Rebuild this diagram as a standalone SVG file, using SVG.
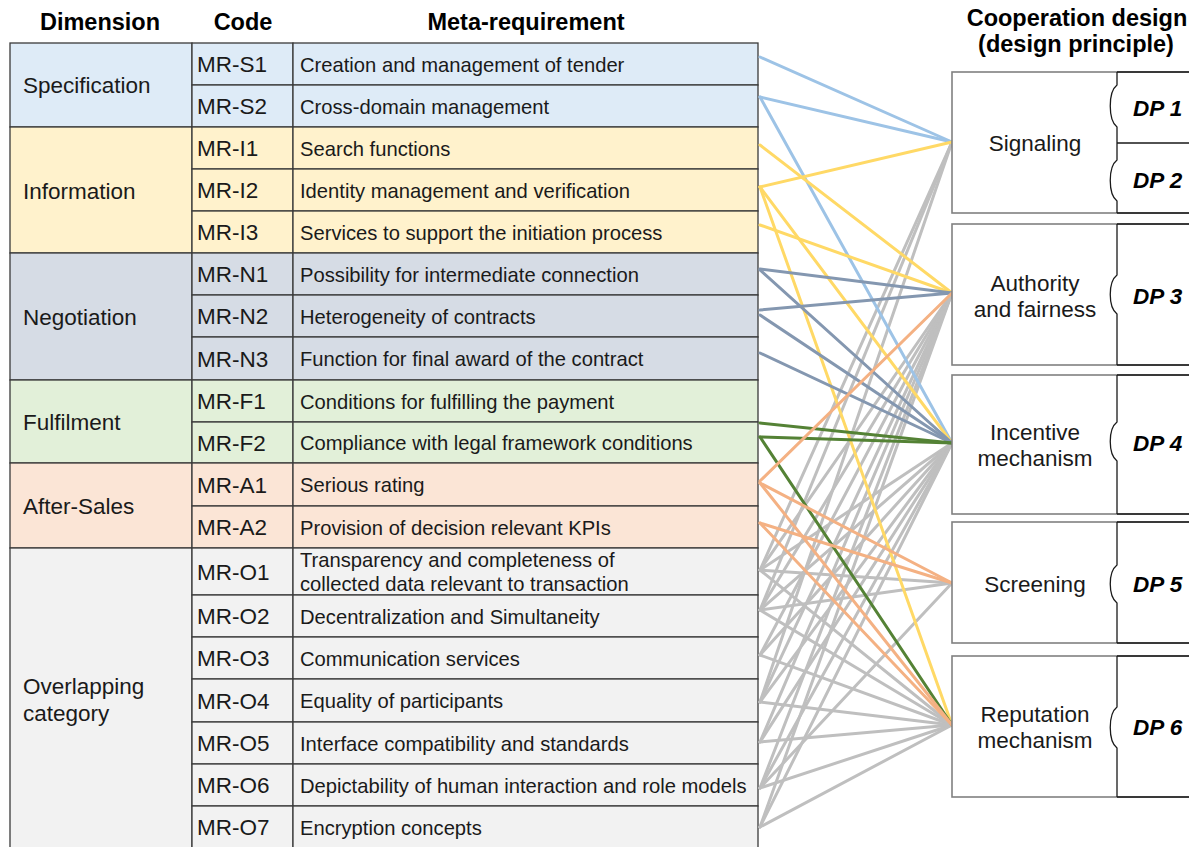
<svg xmlns="http://www.w3.org/2000/svg" width="1189" height="847" viewBox="0 0 1189 847">
<style>
.hd{font-family:"Liberation Sans",Arial,sans-serif;font-weight:bold;font-size:23.5px;fill:#000}
.dim{font-family:"Liberation Sans",Arial,sans-serif;font-size:22.5px;fill:#1a1a1a}
.code{font-family:"Liberation Sans",Arial,sans-serif;font-size:22.5px;fill:#1a1a1a}
.meta{font-family:"Liberation Sans",Arial,sans-serif;font-size:20.2px;fill:#1a1a1a}
.nl{font-family:"Liberation Sans",Arial,sans-serif;font-size:22.5px;fill:#1a1a1a;text-anchor:middle}
.dp{font-family:"Liberation Sans",Arial,sans-serif;font-size:22.5px;font-weight:bold;font-style:italic;fill:#000}
.cell{stroke:#3a3a3a;stroke-width:1.3}
.spec{fill:#DEEBF7}.info{fill:#FFF2CC}.neg{fill:#D6DCE5}.ful{fill:#E2F0D9}.aft{fill:#FBE5D6}.ovl{fill:#F2F2F2}
.nbox{fill:#fff;stroke:#808080;stroke-width:1.6}
.dpl{fill:none;stroke:#1a1a1a;stroke-width:1.3}
.c{stroke-width:3;fill:none;stroke-linecap:round}
.gy{stroke:#BFBFBF}.bl{stroke:#9DC3E6}.ye{stroke:#FFD966}.sl{stroke:#8497B0}.gr{stroke:#548235}.or{stroke:#F4B183}
</style>

<g id="headers">
<text class="hd" x="100" y="30" text-anchor="middle">Dimension</text>
<text class="hd" x="243" y="30" text-anchor="middle">Code</text>
<text class="hd" x="526" y="30" text-anchor="middle">Meta-requirement</text>
<text class="hd" x="1077" y="26" text-anchor="middle">Cooperation design</text>
<text class="hd" x="1076" y="52" text-anchor="middle">(design principle)</text>
</g>

<g id="dimensions">
<g id="dim-specification"><rect class="cell spec" x="10" y="43" width="182" height="84"/><text class="dim" x="23" y="93">Specification</text></g>
<g id="dim-information"><rect class="cell info" x="10" y="127" width="182" height="126"/><text class="dim" x="23" y="199">Information</text></g>
<g id="dim-negotiation"><rect class="cell neg" x="10" y="253" width="182" height="127"/><text class="dim" x="23" y="325">Negotiation</text></g>
<g id="dim-fulfilment"><rect class="cell ful" x="10" y="380" width="182" height="83"/><text class="dim" x="23" y="430">Fulfilment</text></g>
<g id="dim-aftersales"><rect class="cell aft" x="10" y="463" width="182" height="85"/><text class="dim" x="23" y="514">After-Sales</text></g>
<g id="dim-overlapping"><rect class="cell ovl" x="10" y="548" width="182" height="310"/><text class="dim" x="23" y="694">Overlapping</text><text class="dim" x="23" y="721">category</text></g>
</g>

<g id="requirements">
<g id="MR-S1"><rect class="cell spec" x="192" y="43" width="101" height="42"/><rect class="cell spec" x="293" y="43" width="465" height="42"/><text class="code" x="197" y="72">MR-S1</text><text class="meta" x="300" y="71.5">Creation and management of tender</text></g>
<g id="MR-S2"><rect class="cell spec" x="192" y="85" width="101" height="42"/><rect class="cell spec" x="293" y="85" width="465" height="42"/><text class="code" x="197" y="114">MR-S2</text><text class="meta" x="300" y="113.5">Cross-domain management</text></g>
<g id="MR-I1"><rect class="cell info" x="192" y="127" width="101" height="42"/><rect class="cell info" x="293" y="127" width="465" height="42"/><text class="code" x="197" y="156">MR-I1</text><text class="meta" x="300" y="155.5">Search functions</text></g>
<g id="MR-I2"><rect class="cell info" x="192" y="169" width="101" height="42"/><rect class="cell info" x="293" y="169" width="465" height="42"/><text class="code" x="197" y="198">MR-I2</text><text class="meta" x="300" y="197.5">Identity management and verification</text></g>
<g id="MR-I3"><rect class="cell info" x="192" y="211" width="101" height="42"/><rect class="cell info" x="293" y="211" width="465" height="42"/><text class="code" x="197" y="240">MR-I3</text><text class="meta" x="300" y="239.5">Services to support the initiation process</text></g>
<g id="MR-N1"><rect class="cell neg" x="192" y="253" width="101" height="42"/><rect class="cell neg" x="293" y="253" width="465" height="42"/><text class="code" x="197" y="282">MR-N1</text><text class="meta" x="300" y="281.5">Possibility for intermediate connection</text></g>
<g id="MR-N2"><rect class="cell neg" x="192" y="295" width="101" height="42"/><rect class="cell neg" x="293" y="295" width="465" height="42"/><text class="code" x="197" y="324">MR-N2</text><text class="meta" x="300" y="323.5">Heterogeneity of contracts</text></g>
<g id="MR-N3"><rect class="cell neg" x="192" y="337" width="101" height="43"/><rect class="cell neg" x="293" y="337" width="465" height="43"/><text class="code" x="197" y="366.5">MR-N3</text><text class="meta" x="300" y="366">Function for final award of the contract</text></g>
<g id="MR-F1"><rect class="cell ful" x="192" y="380" width="101" height="42"/><rect class="cell ful" x="293" y="380" width="465" height="42"/><text class="code" x="197" y="409">MR-F1</text><text class="meta" x="300" y="408.5">Conditions for fulfilling the payment</text></g>
<g id="MR-F2"><rect class="cell ful" x="192" y="422" width="101" height="41"/><rect class="cell ful" x="293" y="422" width="465" height="41"/><text class="code" x="197" y="450.5">MR-F2</text><text class="meta" x="300" y="450">Compliance with legal framework conditions</text></g>
<g id="MR-A1"><rect class="cell aft" x="192" y="463" width="101" height="43"/><rect class="cell aft" x="293" y="463" width="465" height="43"/><text class="code" x="197" y="492.5">MR-A1</text><text class="meta" x="300" y="492">Serious rating</text></g>
<g id="MR-A2"><rect class="cell aft" x="192" y="506" width="101" height="42"/><rect class="cell aft" x="293" y="506" width="465" height="42"/><text class="code" x="197" y="535">MR-A2</text><text class="meta" x="300" y="534.5">Provision of decision relevant KPIs</text></g>
<g id="MR-O1"><rect class="cell ovl" x="192" y="548" width="101" height="47"/><rect class="cell ovl" x="293" y="548" width="465" height="47"/><text class="code" x="197" y="580">MR-O1</text><text class="meta" x="300" y="567">Transparency and completeness of</text><text class="meta" x="300" y="591">collected data relevant to transaction</text></g>
<g id="MR-O2"><rect class="cell ovl" x="192" y="595" width="101" height="42"/><rect class="cell ovl" x="293" y="595" width="465" height="42"/><text class="code" x="197" y="624">MR-O2</text><text class="meta" x="300" y="623.5">Decentralization and Simultaneity</text></g>
<g id="MR-O3"><rect class="cell ovl" x="192" y="637" width="101" height="42"/><rect class="cell ovl" x="293" y="637" width="465" height="42"/><text class="code" x="197" y="666">MR-O3</text><text class="meta" x="300" y="665.5">Communication services</text></g>
<g id="MR-O4"><rect class="cell ovl" x="192" y="679" width="101" height="43"/><rect class="cell ovl" x="293" y="679" width="465" height="43"/><text class="code" x="197" y="708.5">MR-O4</text><text class="meta" x="300" y="708">Equality of participants</text></g>
<g id="MR-O5"><rect class="cell ovl" x="192" y="722" width="101" height="42"/><rect class="cell ovl" x="293" y="722" width="465" height="42"/><text class="code" x="197" y="751">MR-O5</text><text class="meta" x="300" y="750.5">Interface compatibility and standards</text></g>
<g id="MR-O6"><rect class="cell ovl" x="192" y="764" width="101" height="42"/><rect class="cell ovl" x="293" y="764" width="465" height="42"/><text class="code" x="197" y="793">MR-O6</text><text class="meta" x="300" y="792.5">Depictability of human interaction and role models</text></g>
<g id="MR-O7"><rect class="cell ovl" x="192" y="806" width="101" height="52"/><rect class="cell ovl" x="293" y="806" width="465" height="52"/><text class="code" x="197" y="835">MR-O7</text><text class="meta" x="300" y="834.5">Encryption concepts</text></g>
</g>

<g id="connectors">
<g class="c gy">
<line x1="760" y1="570" x2="952" y2="142"/><line x1="760" y1="570" x2="952" y2="293"/><line x1="760" y1="570" x2="952" y2="443"/><line x1="760" y1="570" x2="952" y2="583"/><line x1="760" y1="570" x2="952" y2="725"/>
<line x1="760" y1="610" x2="952" y2="142"/><line x1="760" y1="610" x2="952" y2="293"/><line x1="760" y1="610" x2="952" y2="443"/><line x1="760" y1="610" x2="952" y2="583"/><line x1="760" y1="610" x2="952" y2="725"/>
<line x1="760" y1="655" x2="952" y2="293"/><line x1="760" y1="655" x2="952" y2="443"/><line x1="760" y1="655" x2="952" y2="725"/>
<line x1="760" y1="702" x2="952" y2="142"/><line x1="760" y1="702" x2="952" y2="293"/><line x1="760" y1="702" x2="952" y2="443"/><line x1="760" y1="702" x2="952" y2="725"/>
<line x1="760" y1="742" x2="952" y2="293"/><line x1="760" y1="742" x2="952" y2="443"/><line x1="760" y1="742" x2="952" y2="725"/>
<line x1="760" y1="788" x2="952" y2="293"/><line x1="760" y1="788" x2="952" y2="443"/><line x1="760" y1="788" x2="952" y2="583"/><line x1="760" y1="788" x2="952" y2="725"/>
<line x1="760" y1="827" x2="952" y2="293"/><line x1="760" y1="827" x2="952" y2="443"/><line x1="760" y1="827" x2="952" y2="725"/>
</g>
<g class="c bl">
<line x1="760" y1="57" x2="952" y2="142"/><line x1="760" y1="97" x2="952" y2="142"/><line x1="760" y1="97" x2="952" y2="443"/>
</g>
<g class="c ye">
<line x1="760" y1="145" x2="952" y2="293"/><line x1="760" y1="187" x2="952" y2="142"/><line x1="760" y1="187" x2="952" y2="443"/><line x1="760" y1="187" x2="952" y2="725"/><line x1="760" y1="225" x2="952" y2="293"/>
</g>
<g class="c sl">
<line x1="760" y1="269" x2="952" y2="293"/><line x1="760" y1="270" x2="952" y2="443"/><line x1="760" y1="310" x2="952" y2="293"/><line x1="760" y1="315" x2="952" y2="443"/><line x1="760" y1="353" x2="952" y2="443"/>
</g>
<g class="c gr">
<line x1="760" y1="423" x2="952" y2="443"/><line x1="760" y1="437" x2="952" y2="443"/><line x1="760" y1="437" x2="952" y2="725"/>
</g>
<g class="c or">
<line x1="760" y1="481" x2="952" y2="293"/><line x1="760" y1="483" x2="952" y2="583"/><line x1="760" y1="483" x2="952" y2="725"/><line x1="760" y1="523" x2="952" y2="583"/><line x1="760" y1="523" x2="952" y2="725"/>
</g>
</g>

<g id="signaling">
<rect class="nbox" x="952" y="72" width="260" height="141"/>
<path class="dpl" d="M1117,72 V85 C1108,92 1108,120 1117,127 V143 H1200 M1117,143 V160 C1108,167 1108,194 1117,201 V213 M1117,72 H1200 M1117,213 H1200"/>
<text class="nl" x="1035" y="151">Signaling</text>
<text class="dp" x="1133" y="116">DP 1</text>
<text class="dp" x="1133" y="188">DP 2</text>
</g>
<g id="authority">
<rect class="nbox" x="952" y="224" width="260" height="141"/>
<path class="dpl" d="M1117,224 V275 C1108,282 1108,307 1117,314 V365 M1117,224 H1200 M1117,365 H1200"/>
<text class="nl" x="1035" y="291">Authority</text>
<text class="nl" x="1035" y="317">and fairness</text>
<text class="dp" x="1133" y="304">DP 3</text>
</g>
<g id="incentive">
<rect class="nbox" x="952" y="375" width="260" height="139"/>
<path class="dpl" d="M1117,375 V422 C1108,429 1108,454 1117,461 V514 M1117,375 H1200 M1117,514 H1200"/>
<text class="nl" x="1035" y="440">Incentive</text>
<text class="nl" x="1035" y="466">mechanism</text>
<text class="dp" x="1133" y="451">DP 4</text>
</g>
<g id="screening">
<rect class="nbox" x="952" y="522" width="260" height="121"/>
<path class="dpl" d="M1117,522 V565 C1108,572 1108,596 1117,603 V643 M1117,522 H1200 M1117,643 H1200"/>
<text class="nl" x="1035" y="592">Screening</text>
<text class="dp" x="1133" y="592">DP 5</text>
</g>
<g id="reputation">
<rect class="nbox" x="952" y="656" width="260" height="141"/>
<path class="dpl" d="M1117,656 V707 C1108,714 1108,741 1117,748 V797 M1117,656 H1200 M1117,797 H1200"/>
<text class="nl" x="1035" y="722">Reputation</text>
<text class="nl" x="1035" y="748">mechanism</text>
<text class="dp" x="1133" y="735">DP 6</text>
</g>
</svg>
